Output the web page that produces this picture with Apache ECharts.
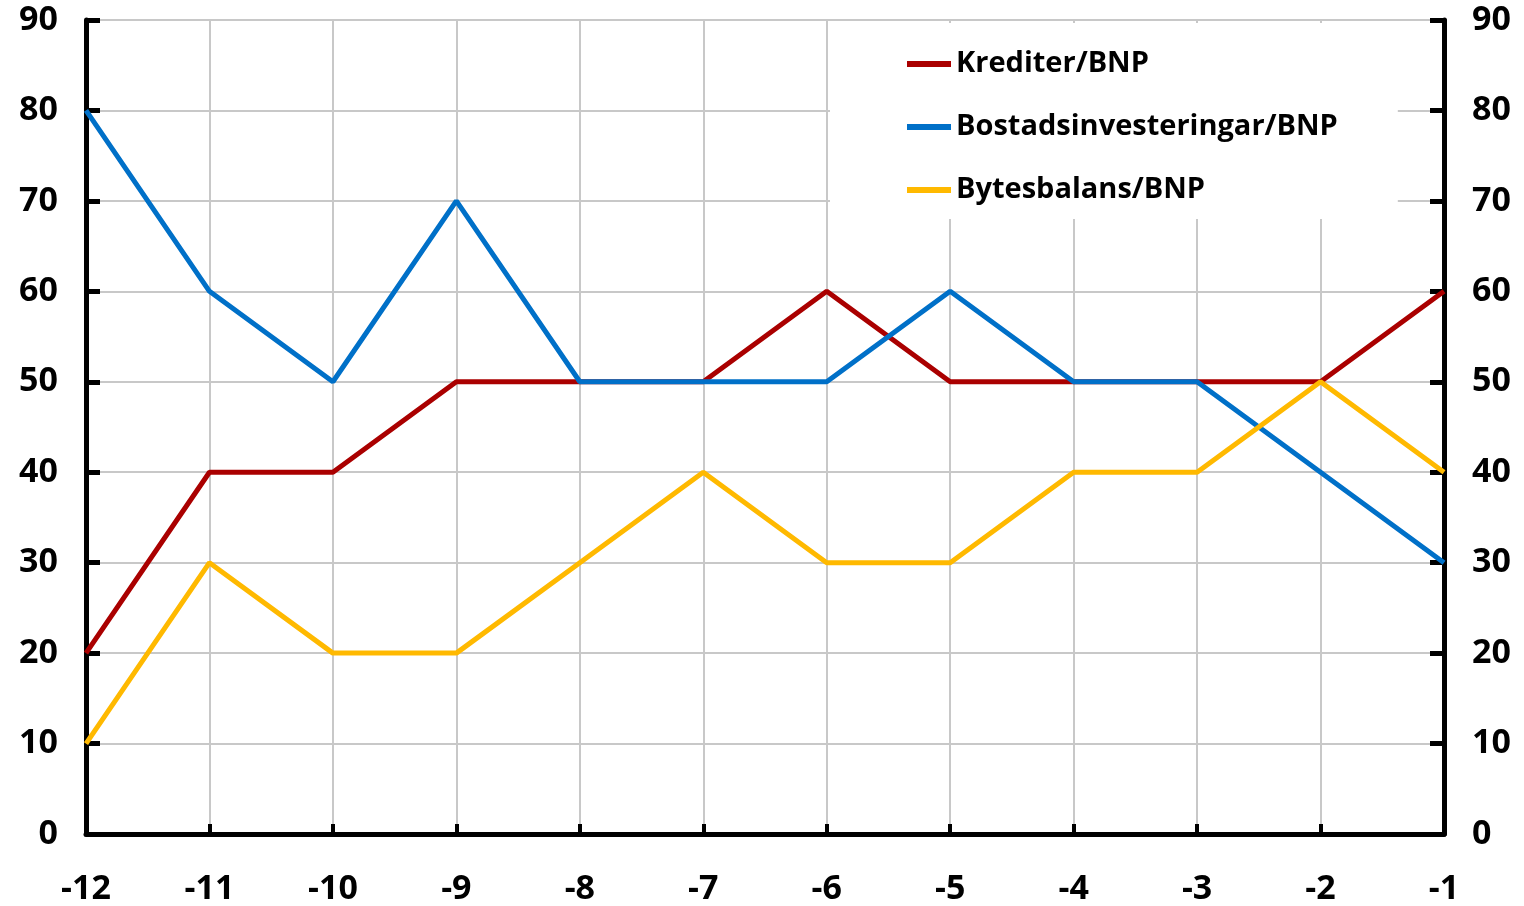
<!DOCTYPE html>
<html>
<head>
<meta charset="utf-8">
<script src="https://cdn.jsdelivr.net/npm/echarts@6/dist/echarts.min.js"></script>
<style>html,body{margin:0;padding:0;background:#fff}#c{width:1524px;height:906px}</style>
</head>
<body>
<div id="c"></div>
<script>
const categories = ['-12','-11','-10','-9','-8','-7','-6','-5','-4','-3','-2','-1'];
const krediter = [20, 40, 40, 50, 50, 50, 60, 50, 50, 50, 50, 60];
const bostad = [80, 60, 50, 70, 50, 50, 50, 60, 50, 50, 40, 30];
const bytes = [10, 30, 20, 20, 30, 40, 30, 30, 40, 40, 50, 40];
const yTicks = [0, 10, 20, 30, 40, 50, 60, 70, 80, 90];

const chart = echarts.init(document.getElementById('c'));
const labelStyle = {color: '#000', fontFamily: 'Open Sans', fontWeight: 'bold', fontSize: 34};
const yAxisBase = {
  type: 'value', min: yTicks[0], max: yTicks[yTicks.length - 1], interval: 10,
  axisLine: {show: true, lineStyle: {color: '#000', width: 5}},
  axisTick: {show: true, inside: true, length: 14, lineStyle: {color: '#000', width: 5}},
  axisLabel: Object.assign({margin: 28}, labelStyle),
  splitLine: {show: false}
};
chart.setOption({
  animation: false,
  grid: {left: 86, right: 80, top: 20, bottom: 71, containLabel: false},
  legend: {
    orient: 'vertical', left: 830, top: 23,
    padding: [23, 60, 11, 77], itemGap: 27,
    backgroundColor: '#fff',
    icon: 'rect', itemWidth: 44, itemHeight: 6,
    textStyle: {color: '#000', fontFamily: 'Open Sans', fontWeight: 'bold', fontSize: 29, lineHeight: 36},
    data: ['Krediter/BNP', 'Bostadsinvesteringar/BNP', 'Bytesbalans/BNP']
  },
  xAxis: {
    type: 'category', data: categories, boundaryGap: false,
    axisLine: {show: true, lineStyle: {color: '#000', width: 5}},
    axisTick: {show: true, inside: true, length: 10, lineStyle: {color: '#000', width: 4}},
    axisLabel: Object.assign({margin: 38}, labelStyle),
    splitLine: {show: true, lineStyle: {color: '#c8c8c8', width: 2}}
  },
  yAxis: [
    Object.assign({}, yAxisBase, {position: 'left', splitLine: {show: true, lineStyle: {color: '#c8c8c8', width: 2}}}),
    Object.assign({}, yAxisBase, {position: 'right'})
  ],
  series: [
    {name: 'Krediter/BNP', type: 'line', data: krediter, symbol: 'none', lineStyle: {color: '#aa0000', width: 5}, itemStyle: {color: '#aa0000'}, z: 3},
    {name: 'Bostadsinvesteringar/BNP', type: 'line', data: bostad, symbol: 'none', lineStyle: {color: '#0070c8', width: 5}, itemStyle: {color: '#0070c8'}, z: 4},
    {name: 'Bytesbalans/BNP', type: 'line', data: bytes, symbol: 'none', lineStyle: {color: '#ffb900', width: 5}, itemStyle: {color: '#ffb900'}, z: 5}
  ]
});
</script>
</body>
</html>
